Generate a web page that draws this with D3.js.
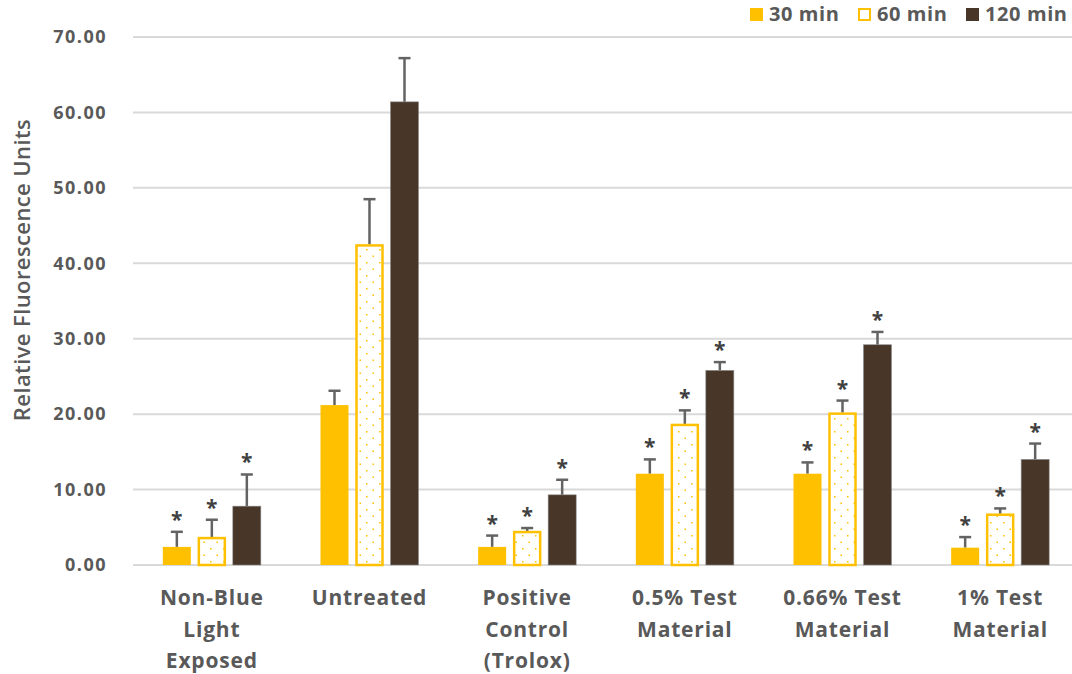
<!DOCTYPE html>
<html><head><meta charset="utf-8">
<script src="https://cdn.jsdelivr.net/npm/d3@7"></script>
<style>
body{margin:0;background:#fff;}
svg text{font-family:"Open Sans","Lato",sans-serif;font-weight:700;fill:#595959;}
</style></head><body>
<svg id="c" width="1072" height="674"></svg>
<script>
const categories = [["Non-Blue","Light","Exposed"],["Untreated"],["Positive","Control","(Trolox)"],["0.5% Test","Material"],["0.66% Test","Material"],["1% Test","Material"]];
const series = ["30 min","60 min","120 min"];
const values30  = [2.4, 21.2, 2.4, 12.1, 12.1, 2.3];
const values60  = [3.7, 42.5, 4.5, 18.7, 20.2, 6.8];
const values120 = [7.8, 61.4, 9.3, 25.8, 29.2, 14.0];
const err30  = [2.0, 1.9, 1.5, 1.9, 1.5, 1.4];
const err60  = [2.3, 6.0, 0.4, 1.8, 1.6, 0.7];
const err120 = [4.2, 5.8, 2.0, 1.1, 1.7, 2.1];
const star30  = [true,false,true,true,true,true];
const star60  = [true,false,true,true,true,true];
const star120 = [true,false,true,true,true,true];
const yTicks = [0,10,20,30,40,50,60,70];

const colors = ["#FFC000","#FFFFFF","#483729"];
const vals = [values30, values60, values120];
const errs = [err30, err60, err120];
const stars = [star30, star60, star120];

const svg = d3.select("#c");
const defs = svg.append("defs");
const pat = defs.append("pattern").attr("id","dots").attr("patternUnits","userSpaceOnUse")
  .attr("width",13).attr("height",13);
pat.append("rect").attr("width",13).attr("height",13).attr("fill","#fff");
pat.append("rect").attr("x",2).attr("y",2).attr("width",1.5).attr("height",1.5).attr("fill","#FFC000");
pat.append("rect").attr("x",8.5).attr("y",8.5).attr("width",1.5).attr("height",1.5).attr("fill","#FFC000");

const x0 = d3.scaleBand().domain(d3.range(categories.length)).range([133, 1079]).paddingInner(0).paddingOuter(0);
const y = d3.scaleLinear().domain([0,70]).range([565, 37]);
const x1 = d3.scaleBand().domain(d3.range(3)).range([0, 98]).paddingInner(0.2).paddingOuter(0);
const groupOff = (x0.bandwidth()-98)/2;

// gridlines
svg.append("g").selectAll("line").data(yTicks).join("line")
  .attr("x1",133).attr("x2",1072).attr("y1",d=>y(d)).attr("y2",d=>y(d))
  .attr("stroke","#D9D9D9").attr("stroke-width",2);

// y tick labels
svg.append("g").selectAll("text").data(yTicks).join("text")
  .attr("x",107).attr("y",d=>y(d)).attr("dy","0.35em").attr("text-anchor","end")
  .attr("font-size",18).attr("letter-spacing",1.5).text(d=>d.toFixed(2));

// y title
svg.append("text").attr("transform","translate(30,270) rotate(-90)").attr("text-anchor","middle")
  .attr("font-size",22).attr("letter-spacing",0.4).style("font-weight",600).text("Relative Fluorescence Units");

// bars
const bw = x1.bandwidth();
for (let s=0;s<3;s++){
  const g = svg.append("g");
  const data = vals[s].map((v,i)=>({v,i,e:errs[s][i],st:stars[s][i]}));
  const bx = d=>x0(d.i)+groupOff+x1(s);
  g.selectAll("line.e").data(data).join("line")
    .attr("x1",d=>bx(d)+bw/2).attr("x2",d=>bx(d)+bw/2)
    .attr("y1",d=>y(d.v)).attr("y2",d=>y(d.v+d.e))
    .attr("stroke","#636363").attr("stroke-width",2.5);
  g.selectAll("line.c").data(data).join("line")
    .attr("x1",d=>bx(d)+bw/2-6).attr("x2",d=>bx(d)+bw/2+6)
    .attr("y1",d=>y(d.v+d.e)).attr("y2",d=>y(d.v+d.e))
    .attr("stroke","#636363").attr("stroke-width",2.5);
  g.selectAll("rect").data(data).join("rect")
    .attr("x",d=>bx(d)+(s==1?1:0)).attr("width",bw-(s==1?2:0))
    .attr("y",d=>y(d.v)+(s==1?1:0)).attr("height",d=>y(0)-y(d.v)-(s==1?1:0))
    .attr("fill",s==1?"url(#dots)":colors[s])
    .attr("stroke",s==1?"#FFC000":(s==2?"#8a8a8a":"none"))
    .attr("stroke-width",s==1?2.5:(s==2?0.6:0));
  g.selectAll("text").data(data.filter(d=>d.st)).join("text")
    .attr("x",d=>bx(d)+bw/2).attr("y",d=>y(d.v+d.e)-5).attr("text-anchor","middle")
    .attr("font-size",21).style("fill","#404040").text("*");
}

// x labels
const xl = svg.append("g").selectAll("text").data(categories).join("text")
  .attr("x",(d,i)=>x0(i)+x0.bandwidth()/2).attr("y",605).attr("text-anchor","middle")
  .attr("font-size",21).attr("letter-spacing",0.8);
xl.selectAll("tspan").data(d=>d).join("tspan")
  .attr("x",function(){return this.parentNode.getAttribute("x");})
  .attr("dy",(d,i)=>i==0?0:31.5).text(d=>d);

// legend
const leg = [{t:"30 min",x:750},{t:"60 min",x:858},{t:"120 min",x:966}];
const lg = svg.append("g");
leg.forEach((l,i)=>{
  lg.append("rect").attr("x",l.x+(i==1?1:0)).attr("y",8+(i==1?1:0)).attr("width",i==1?11:13).attr("height",i==1?11:13)
    .attr("fill",i==1?"#fff":colors[i]).attr("stroke",i==1?"#FFC000":"none").attr("stroke-width",2);
  lg.append("text").attr("x",l.x+19).attr("y",21).attr("font-size",20).attr("letter-spacing",0.6).text(l.t);
});
</script></body></html>
